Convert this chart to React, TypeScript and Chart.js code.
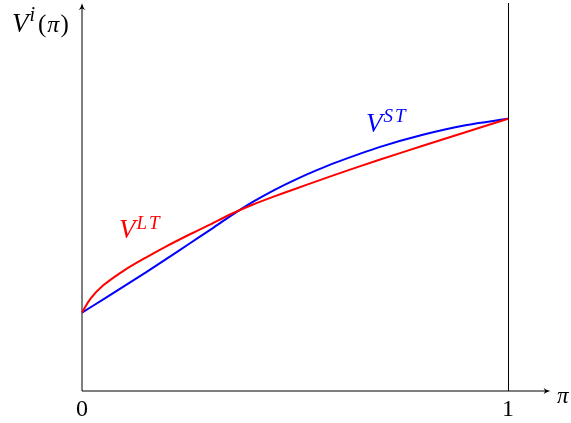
import { useEffect, useRef } from "react";
import { Chart, registerables } from "chart.js";

Chart.register(...registerables);

// Data
const piLT = [0, 0.02, 0.05, 0.1, 0.15, 0.2, 0.25, 0.3, 0.35, 0.4, 0.45, 0.5, 0.55, 0.6, 0.7, 0.8, 0.9, 1.0];
const vLT = [0.288, 0.339, 0.388, 0.444, 0.49, 0.533, 0.573, 0.611, 0.65, 0.684, 0.714, 0.742, 0.77, 0.7975, 0.85, 0.9005, 0.9505, 1.0];
const piST = [0, 0.05, 0.1, 0.15, 0.2, 0.25, 0.3, 0.35, 0.4, 0.45, 0.5, 0.55, 0.6, 0.7, 0.8, 0.9, 1.0];
const vST = [0.288, 0.3365, 0.386, 0.436, 0.487, 0.539, 0.591, 0.644, 0.6935, 0.737, 0.7755, 0.81, 0.8415, 0.8965, 0.941, 0.976, 1.0];
const xTickLabels = ["0", "1"];
const xTickValues = [0, 1];

const X_MAX = 1.1;
const Y_MAX = 1.425;

const SERIF = "'Liberation Serif', 'Times New Roman', serif";

function drawSup(
  ctx: CanvasRenderingContext2D,
  x: number,
  y: number,
  base: string,
  sup: string,
  color: string,
  size: number,
  supSize: number,
  raise: number,
  spacing: number
) {
  ctx.save();
  ctx.fillStyle = color;
  ctx.textAlign = "left";
  ctx.textBaseline = "alphabetic";
  ctx.font = `italic ${size}px ${SERIF}`;
  ctx.fillText(base, x, y);
  const w = ctx.measureText(base).width;
  ctx.font = `italic ${supSize}px ${SERIF}`;
  let cx = x + w + 1;
  for (const ch of sup) {
    ctx.fillText(ch, cx, y - raise);
    cx += ctx.measureText(ch).width + spacing;
  }
  ctx.restore();
  return cx;
}

const axesPlugin = {
  id: "texAxes",
  beforeDatasetsDraw(chart: any) {
    const ctx: CanvasRenderingContext2D = chart.ctx;
    const xs = chart.scales.x;
    const ys = chart.scales.y;
    const x0 = xs.getPixelForValue(0);
    const y0 = ys.getPixelForValue(0);
    const top = chart.chartArea.top;
    const right = chart.chartArea.right;
    ctx.save();
    ctx.strokeStyle = "#000";
    ctx.lineWidth = 1;
    ctx.beginPath();
    ctx.moveTo(Math.round(x0), y0);
    ctx.lineTo(Math.round(x0), top + 2);
    ctx.stroke();
    ctx.beginPath();
    ctx.moveTo(x0, Math.round(y0));
    ctx.lineTo(right - 2, Math.round(y0));
    ctx.stroke();
    const x1 = Math.round(xs.getPixelForValue(1)) + 0.5;
    ctx.beginPath();
    ctx.moveTo(x1, y0);
    ctx.lineTo(x1, top);
    ctx.stroke();
    ctx.fillStyle = "#000";
    const ax = Math.round(x0);
    ctx.beginPath();
    ctx.moveTo(ax, top);
    ctx.quadraticCurveTo(ax + 1, top + 5, ax + 3.5, top + 7);
    ctx.lineTo(ax, top + 5.5);
    ctx.lineTo(ax - 3.5, top + 7);
    ctx.quadraticCurveTo(ax - 1, top + 5, ax, top);
    ctx.fill();
    const ay = Math.round(y0);
    ctx.beginPath();
    ctx.moveTo(right, ay);
    ctx.quadraticCurveTo(right - 5, ay + 1, right - 7, ay + 3.5);
    ctx.lineTo(right - 5.5, ay);
    ctx.lineTo(right - 7, ay - 3.5);
    ctx.quadraticCurveTo(right - 5, ay - 1, right, ay);
    ctx.fill();
    ctx.restore();
  },
  afterDraw(chart: any) {
    const ctx: CanvasRenderingContext2D = chart.ctx;
    const xs = chart.scales.x;
    const ys = chart.scales.y;
    const y0 = ys.getPixelForValue(0);
    ctx.save();
    ctx.fillStyle = "#000";
    ctx.font = `24px ${SERIF}`;
    ctx.textAlign = "center";
    ctx.textBaseline = "alphabetic";
    xTickValues.forEach((v, i) => {
      ctx.fillText(xTickLabels[i], xs.getPixelForValue(v), y0 + 25);
    });
    ctx.font = `italic 23px ${SERIF}`;
    ctx.textAlign = "left";
    ctx.fillText("π", 557, y0 + 12);
    // y axis label V^i(π)
    const endX = drawSup(ctx, 12, 32, "V", "i", "#000", 27, 20, 11, 0);
    ctx.fillStyle = "#000";
    ctx.font = `25px ${SERIF}`;
    ctx.fillText("(", endX + 3, 32);
    let w = ctx.measureText("(").width + 1;
    ctx.font = `italic 24px ${SERIF}`;
    ctx.fillText("π", endX + 3 + w, 32);
    w += ctx.measureText("π").width + 1;
    ctx.font = `25px ${SERIF}`;
    ctx.fillText(")", endX + 3 + w, 32);
    // curve labels
    drawSup(ctx, 366, 132, "V", "ST", "#0000ff", 27, 19, 10, 2);
    drawSup(ctx, 119, 238, "V", "LT", "#ff0000", 27, 19, 9, 2);
    ctx.restore();
  },
};

export default function App() {
  const canvasRef = useRef<HTMLCanvasElement | null>(null);

  useEffect(() => {
    if (!canvasRef.current) return;
    const chart = new Chart(canvasRef.current, {
      type: "line",
      data: {
        datasets: [
          {
            label: "V^LT",
            data: piLT.map((x, i) => ({ x, y: vLT[i] })),
            borderColor: "#ff0000",
            borderWidth: 2,
            pointRadius: 0,
            tension: 0.25,
            fill: false,
            clip: false,
          },
          {
            label: "V^ST",
            data: piST.map((x, i) => ({ x, y: vST[i] })),
            borderColor: "#0000ff",
            borderWidth: 2,
            pointRadius: 0,
            tension: 0.3,
            fill: false,
            clip: false,
          },
        ],
      },
      options: {
        animation: false,
        responsive: true,
        maintainAspectRatio: false,
        layout: { padding: { left: 82, right: 571 - (82 + X_MAX * 426), top: 3, bottom: 32 } },
        plugins: { legend: { display: false }, tooltip: { enabled: false } },
        scales: {
          x: { type: "linear", min: 0, max: X_MAX, display: false },
          y: { type: "linear", min: 0, max: Y_MAX, display: false },
        },
      },
      plugins: [axesPlugin],
    } as any);
    if ((document as any).fonts) {
      Promise.all([
        document.fonts.load(`24px 'Liberation Serif'`),
        document.fonts.load(`italic 24px 'Liberation Serif'`),
      ])
        .then(() => chart.update("none"))
        .catch(() => {});
    }
    return () => chart.destroy();
  }, []);

  return (
    <div style={{ position: "fixed", left: 0, top: 0, width: 571, height: 423, background: "#fff" }}>
      <canvas ref={canvasRef} />
    </div>
  );
}
